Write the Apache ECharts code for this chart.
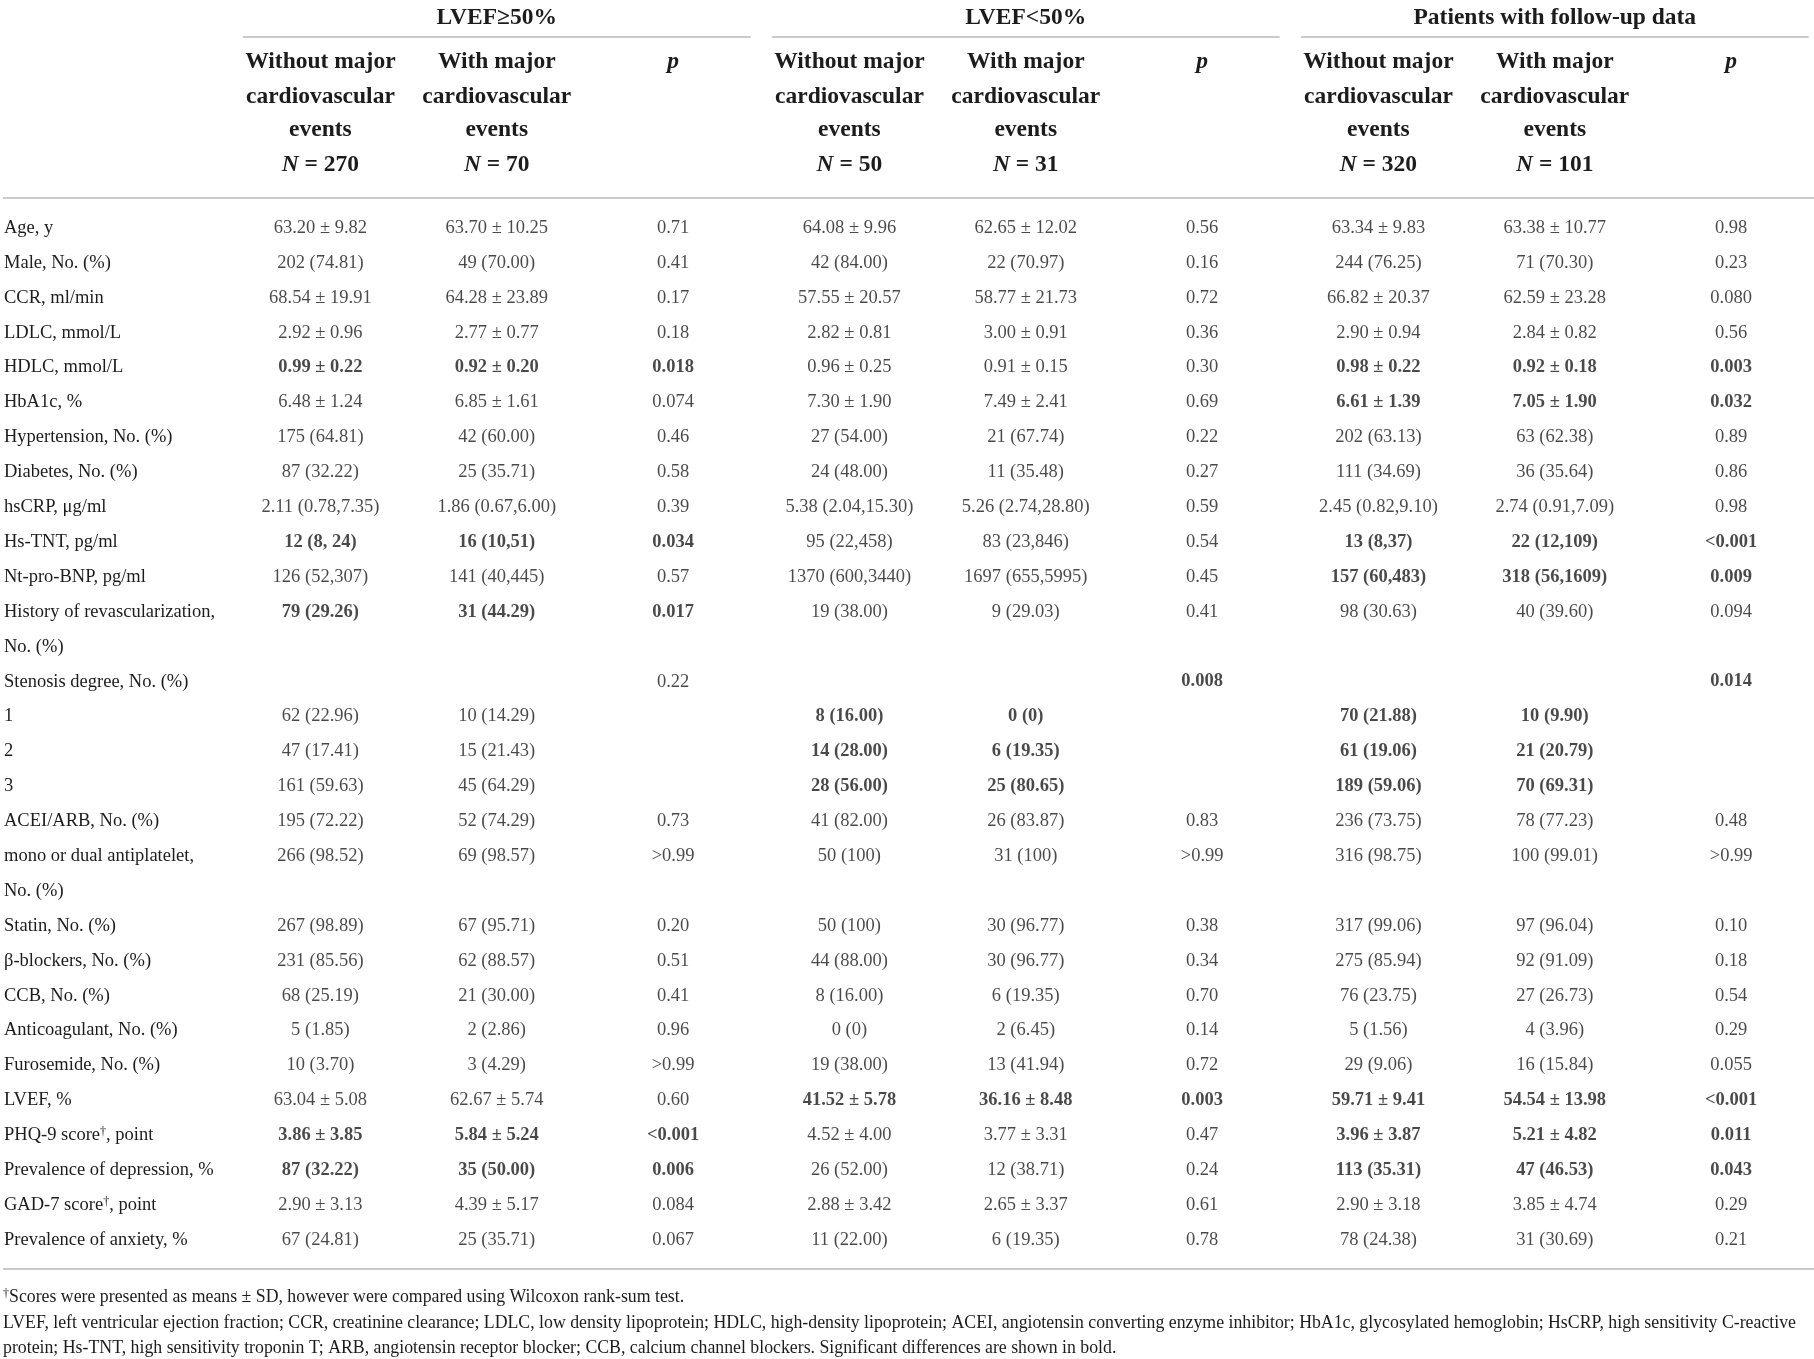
<!DOCTYPE html>
<html><head><meta charset="utf-8">
<script src="https://cdn.jsdelivr.net/npm/echarts@6/dist/echarts.min.js"></script>
<style>html,body{margin:0;padding:0;background:#fff}#c{width:1814px;height:1359px}</style>
</head><body><div id="c"></div><script>
// ---------- DATA ----------
const rowLabels = [
  'Age, y','Male, No. (%)','CCR, ml/min','LDLC, mmol/L','HDLC, mmol/L','HbA1c, %',
  'Hypertension, No. (%)','Diabetes, No. (%)','hsCRP, μg/ml','Hs-TNT, pg/ml','Nt-pro-BNP, pg/ml',
  'History of revascularization,','No. (%)','Stenosis degree, No. (%)','1','2','3',
  'ACEI/ARB, No. (%)','mono or dual antiplatelet,','No. (%)','Statin, No. (%)','β-blockers, No. (%)',
  'CCB, No. (%)','Anticoagulant, No. (%)','Furosemide, No. (%)','LVEF, %','PHQ-9 score†, point',
  'Prevalence of depression, %','GAD-7 score†, point','Prevalence of anxiety, %'
];
const groupTitles = ['LVEF≥50%', 'LVEF<50%', 'Patients with follow-up data'];
const groupN = [[270, 70], [50, 31], [320, 101]];
const headWithout = ['Without major', 'cardiovascular', 'events'];
const headWith = ['With major', 'cardiovascular', 'events'];

const highWithout = ['63.20 ± 9.82','202 (74.81)','68.54 ± 19.91','2.92 ± 0.96','0.99 ± 0.22','6.48 ± 1.24','175 (64.81)','87 (32.22)','2.11 (0.78,7.35)','12 (8, 24)','126 (52,307)','79 (29.26)','','','62 (22.96)','47 (17.41)','161 (59.63)','195 (72.22)','266 (98.52)','','267 (98.89)','231 (85.56)','68 (25.19)','5 (1.85)','10 (3.70)','63.04 ± 5.08','3.86 ± 3.85','87 (32.22)','2.90 ± 3.13','67 (24.81)'];
const highWith = ['63.70 ± 10.25','49 (70.00)','64.28 ± 23.89','2.77 ± 0.77','0.92 ± 0.20','6.85 ± 1.61','42 (60.00)','25 (35.71)','1.86 (0.67,6.00)','16 (10,51)','141 (40,445)','31 (44.29)','','','10 (14.29)','15 (21.43)','45 (64.29)','52 (74.29)','69 (98.57)','','67 (95.71)','62 (88.57)','21 (30.00)','2 (2.86)','3 (4.29)','62.67 ± 5.74','5.84 ± 5.24','35 (50.00)','4.39 ± 5.17','25 (35.71)'];
const highP = ['0.71','0.41','0.17','0.18','0.018','0.074','0.46','0.58','0.39','0.034','0.57','0.017','','0.22','','','','0.73','>0.99','','0.20','0.51','0.41','0.96','>0.99','0.60','<0.001','0.006','0.084','0.067'];

const lowWithout = ['64.08 ± 9.96','42 (84.00)','57.55 ± 20.57','2.82 ± 0.81','0.96 ± 0.25','7.30 ± 1.90','27 (54.00)','24 (48.00)','5.38 (2.04,15.30)','95 (22,458)','1370 (600,3440)','19 (38.00)','','','8 (16.00)','14 (28.00)','28 (56.00)','41 (82.00)','50 (100)','','50 (100)','44 (88.00)','8 (16.00)','0 (0)','19 (38.00)','41.52 ± 5.78','4.52 ± 4.00','26 (52.00)','2.88 ± 3.42','11 (22.00)'];
const lowWith = ['62.65 ± 12.02','22 (70.97)','58.77 ± 21.73','3.00 ± 0.91','0.91 ± 0.15','7.49 ± 2.41','21 (67.74)','11 (35.48)','5.26 (2.74,28.80)','83 (23,846)','1697 (655,5995)','9 (29.03)','','','0 (0)','6 (19.35)','25 (80.65)','26 (83.87)','31 (100)','','30 (96.77)','30 (96.77)','6 (19.35)','2 (6.45)','13 (41.94)','36.16 ± 8.48','3.77 ± 3.31','12 (38.71)','2.65 ± 3.37','6 (19.35)'];
const lowP = ['0.56','0.16','0.72','0.36','0.30','0.69','0.22','0.27','0.59','0.54','0.45','0.41','','0.008','','','','0.83','>0.99','','0.38','0.34','0.70','0.14','0.72','0.003','0.47','0.24','0.61','0.78'];

const followWithout = ['63.34 ± 9.83','244 (76.25)','66.82 ± 20.37','2.90 ± 0.94','0.98 ± 0.22','6.61 ± 1.39','202 (63.13)','111 (34.69)','2.45 (0.82,9.10)','13 (8,37)','157 (60,483)','98 (30.63)','','','70 (21.88)','61 (19.06)','189 (59.06)','236 (73.75)','316 (98.75)','','317 (99.06)','275 (85.94)','76 (23.75)','5 (1.56)','29 (9.06)','59.71 ± 9.41','3.96 ± 3.87','113 (35.31)','2.90 ± 3.18','78 (24.38)'];
const followWith = ['63.38 ± 10.77','71 (70.30)','62.59 ± 23.28','2.84 ± 0.82','0.92 ± 0.18','7.05 ± 1.90','63 (62.38)','36 (35.64)','2.74 (0.91,7.09)','22 (12,109)','318 (56,1609)','40 (39.60)','','','10 (9.90)','21 (20.79)','70 (69.31)','78 (77.23)','100 (99.01)','','97 (96.04)','92 (91.09)','27 (26.73)','4 (3.96)','16 (15.84)','54.54 ± 13.98','5.21 ± 4.82','47 (46.53)','3.85 ± 4.74','31 (30.69)'];
const followP = ['0.98','0.23','0.080','0.56','0.003','0.032','0.89','0.86','0.98','<0.001','0.009','0.094','','0.014','','','','0.48','>0.99','','0.10','0.18','0.54','0.29','0.055','<0.001','0.011','0.043','0.29','0.21'];

const boldRowsHigh = [4, 9, 11, 26, 27];
const boldRowsLow = [13, 14, 15, 16, 25];
const boldRowsFollow = [4, 5, 9, 10, 13, 14, 15, 16, 25, 26, 27];

const footnotes = [
  '{sup|†}Scores were presented as means ± SD, however were compared using Wilcoxon rank-sum test.',
  'LVEF, left ventricular ejection fraction; CCR, creatinine clearance; LDLC, low density lipoprotein; HDLC, high-density lipoprotein; ACEI, angiotensin converting enzyme inhibitor; HbA1c, glycosylated hemoglobin; HsCRP, high sensitivity C-reactive',
  'protein; Hs-TNT, high sensitivity troponin T; ARB, angiotensin receptor blocker; CCB, calcium channel blockers. Significant differences are shown in bold.'
];

// ---------- LAYOUT / STYLE ----------
const FONT = 'Liberation Serif';
const INK = '#1c1c1c';
const RULE = '#cbcbcb';
const BODY_SIZE = 18.5;
const HEAD_SIZE = 23.5;
const FOOT_SIZE = 17.8;
const groups = [
  {cols: [1, 2, 3], values: [highWithout, highWith, highP], bold: boldRowsHigh},
  {cols: [4, 5, 6], values: [lowWithout, lowWith, lowP], bold: boldRowsLow},
  {cols: [7, 8, 9], values: [followWithout, followWith, followP], bold: boldRowsFollow}
];

const series = groups.map((g, gi) => {
  const data = [];
  g.values.forEach((arr, ci) => {
    arr.forEach((txt, r) => {
      if (!txt) return;
      data.push({
        value: [g.cols[ci], r, txt],
        label: {fontWeight: g.bold.includes(r) ? 'bold' : 'normal'}
      });
    });
  });
  return {
    type: 'scatter', name: groupTitles[gi], data: data,
    symbolSize: 1, itemStyle: {color: 'rgba(0,0,0,0)'},
    silent: true, animation: false,
    label: {show: true, position: 'inside', formatter: p => p.value[2],
      fontFamily: FONT, fontSize: BODY_SIZE, color: INK}
  };
});

const chart = echarts.init(document.getElementById('c'), null, {renderer: 'canvas'});
chart.setOption({
  backgroundColor: '#fff',
  animation: false,
  grid: {left: 3, right: 0, top: 210.55, bottom: 101.55, containLabel: false},
  xAxis: {type: 'value', min: -0.8, max: 9.47, show: false},
  yAxis: {
    type: 'category', data: rowLabels, inverse: true,
    axisLine: {show: false}, axisTick: {show: false}, splitLine: {show: false},
    axisLabel: {
      inside: true, align: 'left', margin: 1, interval: 0,
      fontFamily: FONT, fontSize: BODY_SIZE, color: INK,
      formatter: v => v.replace('†', '{sup|†}'),
      rich: {sup: {fontFamily: FONT, fontSize: 12, color: INK, verticalAlign: 'top', lineHeight: 12, padding: [0, 0, 10, 0]}}
    }
  },
  series: series
});

// header & rules positioned via the x scale
const px = v => chart.convertToPixel({xAxisIndex: 0}, v);
const W = 1814;
const gfx = [];
const headFont = (w) => ({fontFamily: FONT, fontSize: HEAD_SIZE, fontWeight: w || 'bold', fill: INK});
const HEAD_Y = [62, 97, 130, 165];
const TITLE_Y = 18;

groups.forEach((g, gi) => {
  gfx.push({type: 'text', silent: true, style: Object.assign({text: groupTitles[gi], x: px(g.cols[1]), y: TITLE_Y,
    textAlign: 'center', textVerticalAlign: 'middle'}, headFont())});
  gfx.push({type: 'line', silent: true, shape: {x1: px(g.cols[0] - 0.44), y1: 37, x2: Math.min(px(g.cols[2] + 0.44), W), y2: 37},
    style: {stroke: RULE, lineWidth: 2}});
  [headWithout, headWith].forEach((lines, k) => {
    const x = px(g.cols[k]);
    lines.forEach((t, li) => {
      gfx.push({type: 'text', silent: true, style: Object.assign({text: t, x: x, y: HEAD_Y[li],
        textAlign: 'center', textVerticalAlign: 'middle'}, headFont())});
    });
    gfx.push({type: 'text', silent: true, style: Object.assign({
      text: '{i|N} = ' + groupN[gi][k], x: x, y: HEAD_Y[3], textAlign: 'center', textVerticalAlign: 'middle',
      rich: {i: {fontFamily: FONT, fontSize: HEAD_SIZE, fontWeight: 'bold', fontStyle: 'italic', fill: INK}}
    }, headFont())});
  });
  gfx.push({type: 'text', silent: true, style: Object.assign({text: 'p', x: px(g.cols[2]), y: HEAD_Y[0],
    textAlign: 'center', textVerticalAlign: 'middle', fontStyle: 'italic'}, headFont())});
});
gfx.push({type: 'line', silent: true, shape: {x1: 3, y1: 198, x2: W, y2: 198}, style: {stroke: RULE, lineWidth: 2}});
gfx.push({type: 'line', silent: true, shape: {x1: 3, y1: 1269, x2: W, y2: 1269}, style: {stroke: RULE, lineWidth: 2}});
const FOOT_Y = [1297, 1323, 1348];
footnotes.forEach((t, i) => {
  gfx.push({type: 'text', silent: true, style: {text: t, x: 3, y: FOOT_Y[i], textAlign: 'left', textVerticalAlign: 'middle',
    fontFamily: FONT, fontSize: FOOT_SIZE, fill: INK,
    rich: {sup: {fontFamily: FONT, fontSize: 12, fill: INK, verticalAlign: 'top', lineHeight: 12, padding: [0, 0, 10, 0]}}}});
});
chart.setOption({graphic: gfx});
</script></body></html>
